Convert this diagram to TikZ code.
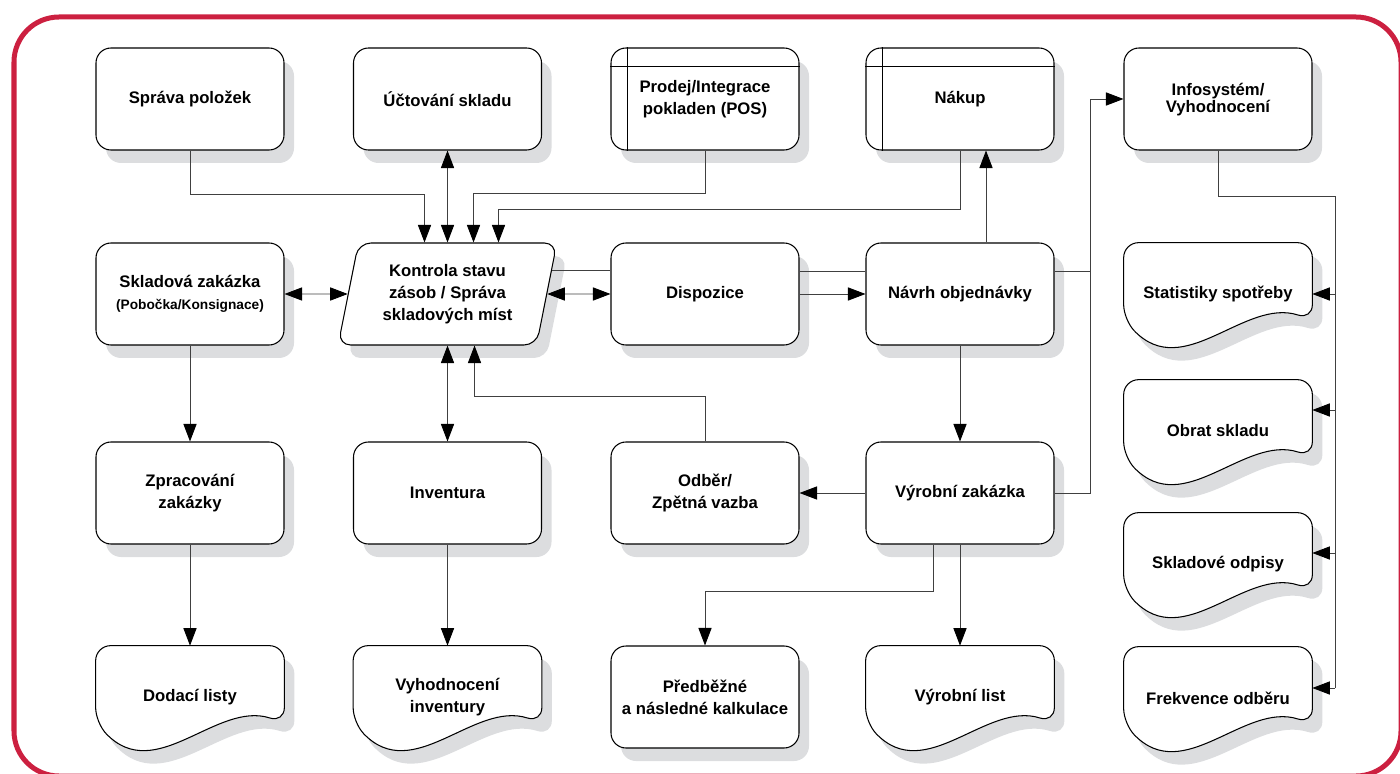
\documentclass[tikz,border=0pt]{standalone}
\usepackage{fontspec}
\setmainfont{Liberation Sans}
\usetikzlibrary{arrows.meta,shapes.geometric,shadows,backgrounds}

\definecolor{framered}{RGB}{204,32,64}
\definecolor{shadowgray}{RGB}{220,221,223}
\newcommand\boxfont{\fontsize{9.5}{12.5}\selectfont\bfseries}
\newcommand\subfont{\fontsize{7.8}{10}\selectfont\bfseries}
% document outline of node #1, moved by (#2,#3)
\newcommand\docpath[3]{([shift={(#2,#3)}]#1.north west) -- ([shift={(#2,#3)}]#1.north east)
  -- ([shift={(#2,#3)},yshift=-1.54cm]#1.north east)
  .. controls ([shift={(#2,#3)},shift={(-1.36cm,-1.1cm)}]#1.north east)
  and ([shift={(#2,#3)},shift={(1.2cm,-2.8cm)}]#1.north west)
  .. ([shift={(#2,#3)},yshift=-1.54cm]#1.north west) -- cycle}

\tikzset{
  boxline/.style={draw=black, line width=0.6pt},
  box/.style={boxline, rectangle, rounded corners=0.3cm, fill=white,
    minimum width=3.76cm, minimum height=2.04cm, inner sep=0pt,
    align=center, font=\boxfont,
    general shadow={fill=shadowgray, shadow xshift=0.2cm, shadow yshift=-0.26cm}},
  para/.style={box, trapezium, trapezium left angle=76, trapezium right angle=104,
    trapezium stretches=true, minimum width=4.38cm, rounded corners=0.25cm},
  docbox/.style={rectangle, minimum width=3.76cm, minimum height=2.04cm,
    inner sep=0pt, align=center, font=\boxfont},
  line/.style={draw=black!75, line width=0.5pt},
  arr/.style={-{Triangle[length=10pt,width=7.5pt,color=black]}},
  arrs/.style={{Triangle[length=10pt,width=7.5pt,color=black]}-{Triangle[length=10pt,width=7.5pt,color=black]}}
}

\begin{document}
\begin{tikzpicture}
  \useasboundingbox (0cm,0cm) rectangle (28cm,-15.48cm);
  \draw[framered, line width=0.1cm, rounded corners=0.9cm] (0.28cm,-0.34cm) rectangle (28.02cm,-15.52cm);

  \node[box] (spr) at (3.8cm,-1.98cm) {Správa položek};
  \node[box] (uct) at (8.95cm,-1.98cm) {Účtování skladu};
  \node[box] (pos) at (14.1cm,-1.98cm) {Prodej/Integrace\\pokladen (POS)};
  \node[box] (nakup) at (19.2cm,-1.98cm) {Nákup};
  \node[box] (info) at (24.36cm,-1.98cm) {\mbox{}\\[-4.5pt]Infosystém/\\[-3pt]Vyhodnocení};

  \node[box] (sklad) at (3.8cm,-5.88cm) {Skladová zakázka\\{\subfont (Pobočka/Konsignace)}};
  \node[para] (kontrola) at (8.95cm,-5.88cm) {Kontrola stavu\\zásob / Správa\\skladových míst};
  \node[box] (disp) at (14.1cm,-5.88cm) {Dispozice};
  \node[box] (navrh) at (19.2cm,-5.88cm) {Návrh objednávky};

  \node[box] (zprac) at (3.8cm,-9.86cm) {Zpracování\\zakázky};
  \node[box] (inv) at (8.95cm,-9.86cm) {Inventura};
  \node[box] (odber) at (14.1cm,-9.86cm) {Odběr/\\Zpětná vazba};
  \node[box] (vzak) at (19.2cm,-9.86cm) {Výrobní zakázka};

  \node[docbox] (dod) at (3.8cm,-13.94cm) {Dodací listy};
  \node[docbox] (vyhinv) at (8.95cm,-13.94cm) {Vyhodnocení\\inventury};
  \node[box] (kalk) at (14.1cm,-13.94cm) {Předběžné\\a následné kalkulace};
  \node[docbox] (vlist) at (19.2cm,-13.94cm) {Výrobní list};

  \node[docbox] (stat) at (24.36cm,-5.88cm) {Statistiky spotřeby};
  \node[docbox] (obrat) at (24.36cm,-8.62cm) {Obrat skladu};
  \node[docbox] (odpis) at (24.36cm,-11.28cm) {Skladové odpisy};
  \node[docbox] (frek) at (24.36cm,-13.96cm) {Frekvence odběru};

  \begin{scope}[on background layer]
    \foreach \n in {dod,vyhinv,vlist,stat,obrat,odpis,frek} {
      \fill[shadowgray, rounded corners=0.3cm] \docpath{\n}{0.2cm}{-0.26cm};
      \draw[boxline, fill=white, rounded corners=0.3cm] \docpath{\n}{0cm}{0cm};
    }
  \end{scope}

  \foreach \n in {pos,nakup} {
    \draw[boxline] ([xshift=0.34cm]\n.north west) -- ([xshift=0.34cm]\n.south west);
    \draw[boxline] ([yshift=-0.38cm]\n.north west) -- ([yshift=-0.38cm]\n.north east);
  }

  \draw[line,arr] (spr.south) |- ([shift={(-0.46cm,0.96cm)}]kontrola.north) -- ([xshift=-0.46cm]kontrola.north);
  \draw[line,arrs] (uct) -- (kontrola);
  \draw[line,arr] (pos.south) |- ([shift={(0.52cm,0.98cm)}]kontrola.north) -- ([xshift=0.52cm]kontrola.north);
  \draw[line,arr] (nakup.south) |- ([shift={(1.02cm,0.66cm)}]kontrola.north) -- ([xshift=1.02cm]kontrola.north);
  \draw[line,arr] ([xshift=0.52cm]navrh.north) -- ([xshift=0.52cm]nakup.south);

  \draw[line,arrs] (sklad) -- (kontrola);
  \path (kontrola.top right corner) -- (kontrola.bottom right corner) coordinate[pos=0.27] (ktr);
  \draw[line] (ktr) -- (ktr -| disp.west);
  \draw[line,arrs] (kontrola) -- (disp);
  \draw[line] ([yshift=0.46cm]disp.east) -- ([yshift=0.46cm]navrh.west);
  \draw[line,arr] (disp) -- (navrh);
  \draw[line] ([yshift=0.46cm]navrh.east) -- ++(0.72cm,0);
  \draw[line,arr] (vzak.east) -| ([shift={(0.72cm,0.46cm)}]navrh.east) |- (info.west);

  \draw[line,arr] (sklad) -- (zprac);
  \draw[line,arrs] (kontrola) -- (inv);
  \draw[line,arr] (odber.north) |- ([shift={(0.54cm,-1.02cm)}]kontrola.south) -- ([xshift=0.54cm]kontrola.south);
  \draw[line,arr] (navrh) -- (vzak);
  \draw[line,arr] (vzak) -- (odber);

  \draw[line,arr] (zprac) -- (dod);
  \draw[line,arr] (inv) -- (vyhinv);
  \draw[line,arr] ([xshift=-0.54cm]vzak.south) |- ([yshift=1.08cm]kalk.north) -- (kalk.north);
  \draw[line,arr] (vzak) -- (vlist);

  \coordinate (bus) at (26.7cm,-3.92cm);
  \draw[line] (info.south) |- (bus) -- ([yshift=0.2cm]frek.east -| bus);
  \foreach \n/\dy in {stat/0,obrat/0.42,odpis/0.22,frek/0.2}
    \draw[line,arr] ([yshift=\dy cm]\n.east -| bus) -- ([yshift=\dy cm]\n.east);
\end{tikzpicture}
\end{document}
